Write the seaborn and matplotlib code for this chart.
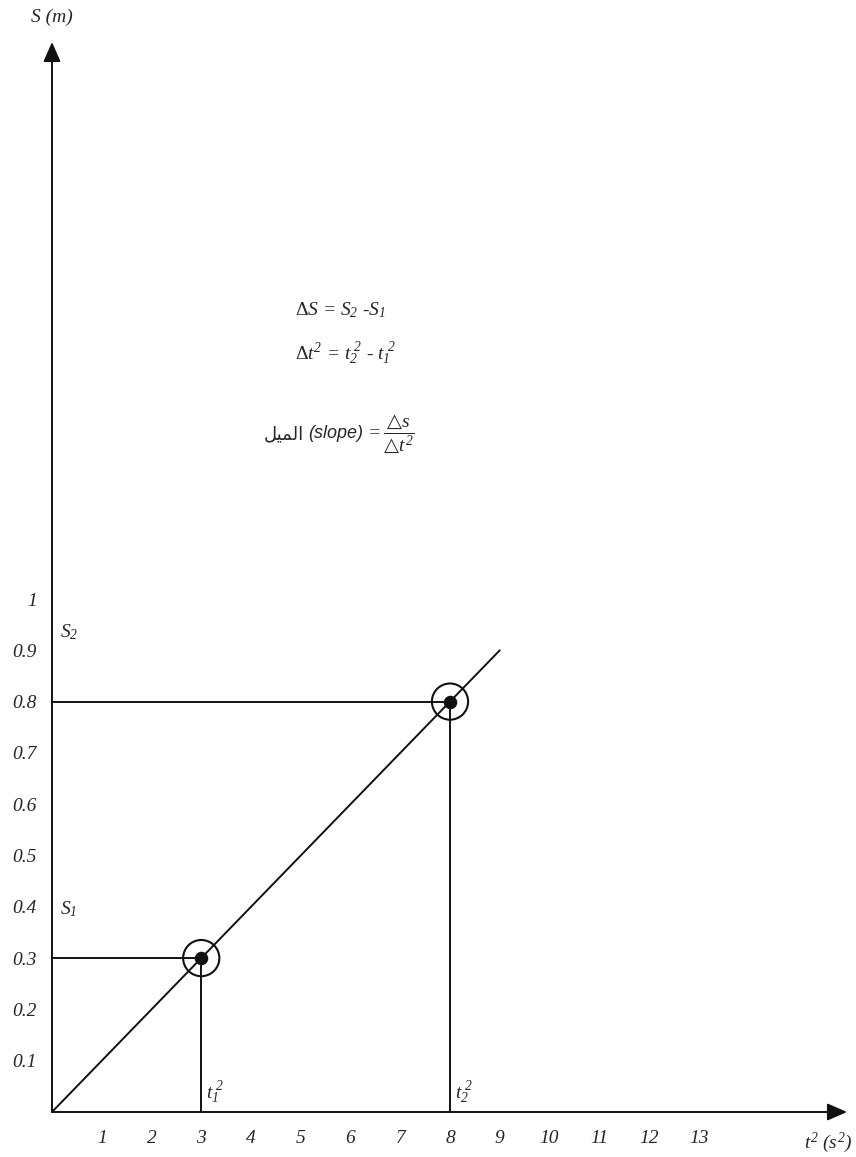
import matplotlib
matplotlib.use("Agg")
import matplotlib.pyplot as plt
import numpy as np
import pandas as pd
import seaborn as sns

# ---- data ----
t2_ticks = [1, 2, 3, 4, 5, 6, 7, 8, 9, 10, 11, 12, 13]
s_ticks = [0.1, 0.2, 0.3, 0.4, 0.5, 0.6, 0.7, 0.8, 0.9, 1.0]
s_tick_labels = ["0.1", "0.2", "0.3", "0.4", "0.5", "0.6", "0.7", "0.8", "0.9", "1"]
line_t2 = [0, 9]
line_s = [0.0, 0.9]
point_t2 = [3, 8]
point_s = [0.3, 0.8]
point_names = ["1", "2"]

sns.set_theme(style="white")
plt.rcParams["font.family"] = ["Liberation Serif", "DejaVu Sans"]
plt.rcParams["font.style"] = "italic"
plt.rcParams["mathtext.fontset"] = "custom"
plt.rcParams["mathtext.rm"] = "Liberation Serif:italic"
plt.rcParams["mathtext.it"] = "Liberation Serif:italic"
# upright serif for the Greek capital, sans for the outline triangle
plt.rcParams["mathtext.bf"] = "Liberation Serif:style=normal"
plt.rcParams["mathtext.sf"] = "DejaVu Sans:style=normal"

W, H = 856, 1157
fig = plt.figure(figsize=(W / 100, H / 100), dpi=100)

# axes box: origin at (52, 1112) px, arrow tips at x=847 px and y=42 px
x0, y0, x1, y1 = 52, 1112, 847, 42
ax = fig.add_axes([x0 / W, 1 - y0 / H, (x1 - x0) / W, (y0 - y1) / H])
px_per_t = 49.75
px_per_s = 513.0
ax.set_xlim(0, (x1 - x0) / px_per_t)
ax.set_ylim(0, (y0 - y1) / px_per_s)

for sp in ax.spines.values():
    sp.set_visible(False)

ink = "#111111"
lw = 1.4

# axes with arrow heads
arrow = dict(arrowstyle="-|>,head_length=0.8,head_width=0.35", color=ink,
             lw=lw, mutation_scale=15, shrinkA=0, shrinkB=0)
ax.annotate("", xy=(1, 0), xytext=(0, 0), xycoords="axes fraction",
            textcoords="axes fraction", arrowprops=arrow, annotation_clip=False)
ax.annotate("", xy=(0, 1), xytext=(0, 0), xycoords="axes fraction",
            textcoords="axes fraction", arrowprops=arrow, annotation_clip=False)

# best-fit line through the origin
line_df = pd.DataFrame({"t2": line_t2, "s": line_s})
sns.lineplot(data=line_df, x="t2", y="s", ax=ax, color=ink, lw=lw)

# guide lines from the two chosen points to the axes
ax.hlines(point_s, 0, point_t2, color=ink, lw=lw)
ax.vlines(point_t2, 0, point_s, color=ink, lw=lw)

# chosen points: ring plus filled dot
pts = pd.DataFrame({"t2": point_t2, "s": point_s, "name": point_names})
sns.scatterplot(data=pts, x="t2", y="s", ax=ax, s=680, facecolor="none",
                edgecolor=ink, linewidth=1.5, zorder=5)
sns.scatterplot(data=pts, x="t2", y="s", ax=ax, s=95, color=ink,
                edgecolor=ink, linewidth=0, zorder=6)

# ticks
fs = 14
ax.set_xticks(t2_ticks)
ax.set_xticklabels([str(v) for v in t2_ticks], fontsize=fs, style="italic")
ax.set_yticks(s_ticks)
ax.set_yticklabels(s_tick_labels, fontsize=fs, style="italic")
ax.tick_params(axis="x", length=0, pad=13)
ax.tick_params(axis="y", length=0, pad=11)
ax.set_xlabel("")
ax.set_ylabel("")

# axis titles
fig.text(52 / W, 1 - 17 / H, "S (m)", ha="center", va="center", fontsize=fs)
fig.text(828 / W, 1 - 1143 / H, r"$t^2\ (s^2)$", ha="center", va="center",
         fontsize=fs)

# point labels
ax.text(0.16, 0.935, r"$S_2$", ha="left", va="center", fontsize=fs)
ax.text(0.16, 0.395, r"$S_1$", ha="left", va="center", fontsize=fs)
ax.text(3.1, 0.012, r"$t_1^{\ 2}$", ha="left", va="bottom", fontsize=fs)
ax.text(8.1, 0.012, r"$t_2^{\ 2}$", ha="left", va="bottom", fontsize=fs)

# slope definition
ax.text(4.88, 1.563, r"$\mathbf{\Delta}S$ = $S_2$ -$S_1$", ha="left",
        va="center", fontsize=fs)
ax.text(4.88, 1.478, r"$\mathbf{\Delta}t^2$ = $t_2^{\ 2}$ - $t_1^{\ 2}$",
        ha="left", va="center", fontsize=fs)

slope_word = ax.text(5.15, 1.322, "(slope)", ha="left", va="center",
                     fontsize=fs - 1, family="Liberation Sans", style="italic")
arabic = "\uFEDE\uFEF4\uFEE4\uFEDF\uFE8D"
ax.annotate(arabic, xy=(0, 0.45), xycoords=slope_word, xytext=(-3, 0),
            textcoords="offset points", ha="right", va="center",
            fontsize=fs - 1, family="DejaVu Sans", style="normal",
            annotation_clip=False)
tri = "\u25B3"
ax.annotate("$= \\dfrac{\\mathsf{" + tri + "} s}{\\mathsf{" + tri + "} t^2}$",
            xy=(1, 0.5), xycoords=slope_word, xytext=(1, 0),
            textcoords="offset points", ha="left", va="center", fontsize=fs,
            annotation_clip=False)

fig.savefig("out.png", dpi=100)
